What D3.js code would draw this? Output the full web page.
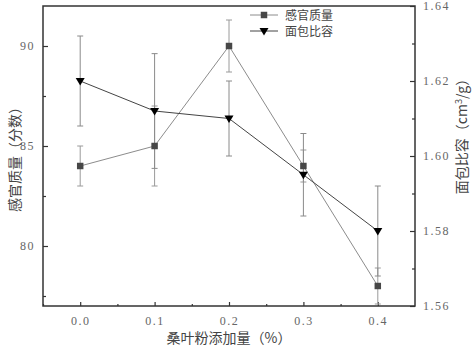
<!DOCTYPE html>
<html>
<head>
<meta charset="utf-8">
<script src="https://cdn.jsdelivr.net/npm/d3@7"></script>
<style>
  body { margin: 0; background: #fff; }
  text { font-family: "Liberation Serif", "Noto Sans CJK SC", serif; }
</style>
</head>
<body>
<div id="chart"></div>
<script>
// 数据
var additions = [0.0, 0.1, 0.2, 0.3, 0.4];
var sensoryScore = [84, 85, 90, 84, 78];
var sensoryErr = [1, 2, 1.3, 0.8, 0.9];
var specVolume = [1.620, 1.612, 1.610, 1.595, 1.580];
var specVolumeErr = [0.012, 0.0153, 0.010, 0.011, 0.012];
var leftTicks = [80, 85, 90];
var rightTicks = [1.56, 1.58, 1.60, 1.62, 1.64];

var margin = { top: 6, right: 57, bottom: 43, left: 43 };
var W = 472, H = 349;
var width = W - margin.left - margin.right,
    height = H - margin.top - margin.bottom;

var svg = d3.select("#chart").append("svg")
    .attr("width", W).attr("height", H);
var g = svg.append("g")
    .attr("transform", "translate(" + margin.left + "," + margin.top + ")");

var x = d3.scaleLinear().domain([-0.05, 0.45]).range([0, width]);
var yL = d3.scaleLinear().domain([77, 92]).range([height, 0]);
var yR = d3.scaleLinear().domain([1.56, 1.64]).range([height, 0]);

var axisCol = "#333", labelCol = "#666";

// 刻度
function styleAxis(sel) {
  sel.select(".domain").remove();
  sel.selectAll("line").attr("stroke", axisCol).attr("stroke-width", 1.2);
  sel.selectAll("text").attr("fill", labelCol).style("font-size", "12px")
    .style("letter-spacing", "1.5px");
}

// x 次刻度
g.append("g").attr("transform", "translate(0," + height + ")")
  .call(d3.axisBottom(x).tickValues([-0.05, 0.05, 0.15, 0.25, 0.35]).tickSize(-2).tickFormat(""))
  .call(styleAxis);
g.append("g").attr("transform", "translate(0," + height + ")")
  .call(d3.axisBottom(x).tickValues(additions).tickSize(-4).tickPadding(10).tickFormat(d3.format(".1f")))
  .call(styleAxis);

g.append("g")
  .call(d3.axisLeft(yL).tickValues([77.5, 82.5, 87.5]).tickSize(-3).tickFormat(""))
  .call(styleAxis);
g.append("g")
  .call(d3.axisLeft(yL).tickValues(leftTicks).tickSize(-5).tickPadding(8))
  .call(styleAxis);

g.append("g").attr("transform", "translate(" + width + ",0)")
  .call(d3.axisRight(yR).tickValues([1.57, 1.59, 1.61, 1.63]).tickSize(-3).tickFormat(""))
  .call(styleAxis);
g.append("g").attr("transform", "translate(" + width + ",0)")
  .call(d3.axisRight(yR).tickValues(rightTicks).tickSize(-5).tickPadding(8).tickFormat(d3.format(".2f")))
  .call(styleAxis);

// 边框
g.append("rect").attr("width", width).attr("height", height)
  .attr("fill", "none").attr("stroke", axisCol).attr("stroke-width", 1.5);

// 误差线
function errorBars(vals, errs, y, col) {
  var eg = g.append("g");
  vals.forEach(function(v, i) {
    var cx = x(additions[i]);
    eg.append("line").attr("x1", cx).attr("x2", cx)
      .attr("y1", y(v - errs[i])).attr("y2", y(v + errs[i]))
      .attr("stroke", col).attr("stroke-width", 1);
    [v - errs[i], v + errs[i]].forEach(function(e) {
      eg.append("line").attr("x1", cx - 3).attr("x2", cx + 3)
        .attr("y1", y(e)).attr("y2", y(e))
        .attr("stroke", col).attr("stroke-width", 1);
    });
  });
}
errorBars(sensoryScore, sensoryErr, yL, "#9a9a9a");
errorBars(specVolume, specVolumeErr, yR, "#8a8a8a");

// 折线
var lineL = d3.line().x(function(d, i) { return x(additions[i]); }).y(function(d) { return yL(d); });
var lineR = d3.line().x(function(d, i) { return x(additions[i]); }).y(function(d) { return yR(d); });
g.append("path").datum(sensoryScore).attr("d", lineL)
  .attr("fill", "none").attr("stroke", "#8c8c8c").attr("stroke-width", 1);
g.append("path").datum(specVolume).attr("d", lineR)
  .attr("fill", "none").attr("stroke", "#444").attr("stroke-width", 1);

var square = d3.symbol().type(d3.symbolSquare).size(42);
var tri = "M-4.5,-3 L4.5,-3 L0,4.5 Z";
g.selectAll(".sq").data(sensoryScore).enter().append("path")
  .attr("d", square)
  .attr("transform", function(d, i) { return "translate(" + x(additions[i]) + "," + yL(d) + ")"; })
  .attr("fill", "#474747");
g.selectAll(".tri").data(specVolume).enter().append("path")
  .attr("d", tri)
  .attr("transform", function(d, i) { return "translate(" + x(additions[i]) + "," + yR(d) + ")"; })
  .attr("fill", "#000");

// 图例
var legend = g.append("g").attr("transform", "translate(207,9)");
[["感官质量", "#8c8c8c", square, "#474747"], ["面包比容", "#444", tri, "#000"]].forEach(function(d, i) {
  var row = legend.append("g").attr("transform", "translate(0," + (i * 16) + ")");
  row.append("line").attr("x1", 0).attr("x2", 28).attr("stroke", d[1]).attr("stroke-width", 1);
  row.append("path").attr("d", d[2]).attr("transform", "translate(14,0)").attr("fill", d[3]);
  row.append("text").attr("x", 35).attr("y", 4.5).text(d[0])
    .style("font-family", "Noto Sans CJK SC").style("font-size", "12px").attr("fill", "#444");
});

// 轴标题
svg.append("text")
  .attr("transform", "translate(20," + (margin.top + height / 2) + ") rotate(-90)")
  .attr("text-anchor", "middle").attr("fill", "#444")
  .style("font-family", "Noto Sans CJK SC").style("font-size", "14px")
  .text("感官质量（分数）");

var rt = svg.append("text")
  .attr("transform", "translate(467,133) rotate(-90)")
  .attr("text-anchor", "middle").attr("fill", "#444")
  .style("font-family", "Noto Sans CJK SC").style("font-size", "14px");
rt.append("tspan").text("面包比容（cm");
rt.append("tspan").text("3").attr("dy", -5).style("font-size", "9px");
rt.append("tspan").text("/g）").attr("dy", 5);

svg.append("text")
  .attr("x", margin.left + x(0.2)).attr("y", 343)
  .attr("text-anchor", "middle").attr("fill", "#444")
  .style("font-family", "Noto Sans CJK SC").style("font-size", "14px")
  .text("桑叶粉添加量（%）");
</script>
</body>
</html>
